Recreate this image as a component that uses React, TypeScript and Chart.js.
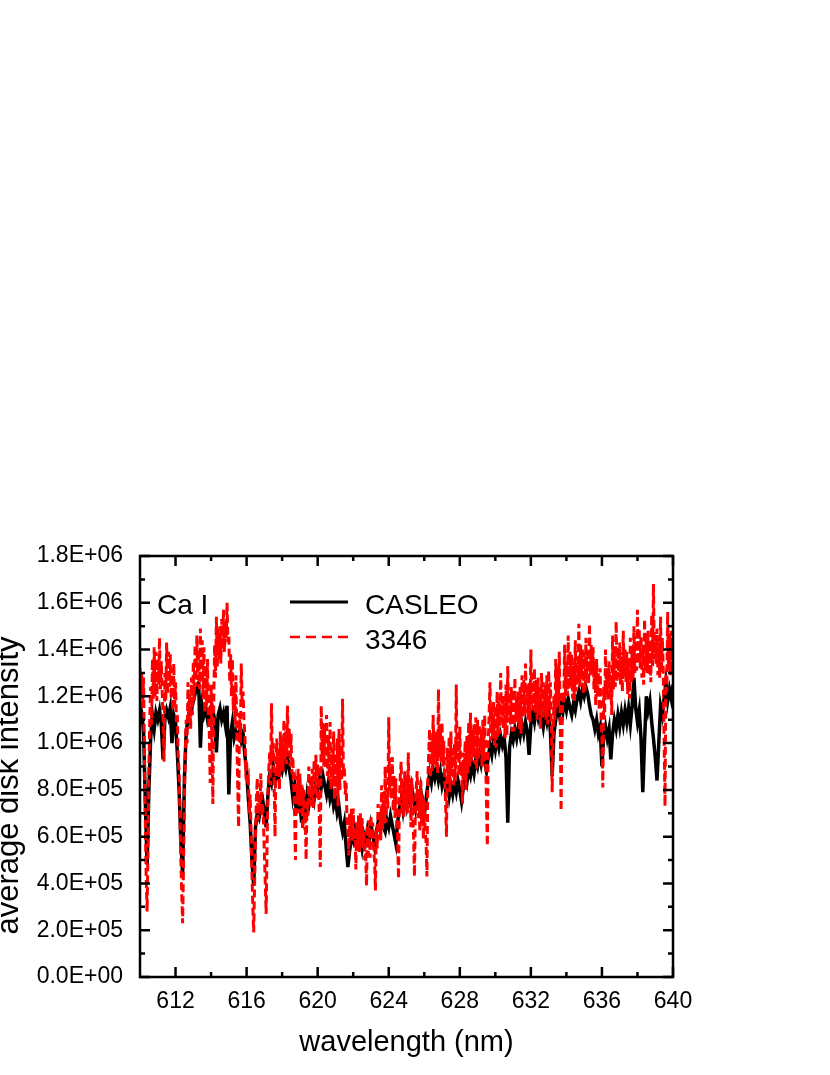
import React, { useEffect, useRef } from 'react';
import { Chart, registerables } from 'chart.js';

Chart.register(...registerables);

// ---- data (intensity in units of 1E+05) ----
const WAVELENGTH_START = 610;
const CASLEO_STEP = 0.1;
const SERIES_3346_STEP = 0.05;
const Y_UNIT = 1e5;

const CASLEO = [
  11.6, 11.3, 10.5, 7.5, 4.8, 8.0, 10.2, 11.2, 10.6, 11.3,
  11.0, 11.4, 10.8, 9.3, 11.0, 11.4, 11.1, 11.5, 10.0, 11.2,
  10.9, 9.6, 8.0, 5.8, 4.4, 8.5, 10.5, 11.0, 11.5, 11.4,
  11.8, 12.1, 12.5, 12.6, 9.8, 11.6, 11.2, 11.5, 11.0, 11.3,
  10.9, 11.4, 11.0, 9.6, 11.2, 11.5, 11.0, 11.3, 10.8, 11.6,
  7.8, 10.4, 10.9, 10.2, 10.5, 10.3, 10.5, 10.1, 10.4, 9.5,
  8.8, 7.6, 6.6, 5.0, 3.9, 6.4, 7.0, 6.8, 7.3, 7.6,
  7.1, 6.4, 7.8, 8.6, 8.3, 9.0, 8.4, 8.8, 8.5, 9.1,
  8.8, 9.2, 8.9, 9.4, 8.9, 8.4, 7.7, 8.2, 7.0, 7.9,
  7.4, 6.6, 7.6, 7.1, 7.8, 7.3, 7.7, 8.0, 7.6, 8.3,
  8.0, 8.5, 8.1, 8.6, 8.2, 7.8, 8.3, 7.6, 7.9, 7.3,
  7.6, 7.0, 7.3, 6.6, 6.2, 6.6, 5.6, 4.7, 5.4, 6.0,
  5.8, 6.3, 5.9, 6.4, 6.0, 5.5, 6.1, 5.8, 6.3, 5.9,
  6.5, 6.1, 5.6, 6.2, 6.6, 6.3, 6.8, 6.4, 6.2, 6.7,
  6.4, 6.9, 6.5, 6.1, 5.7, 6.6, 7.2, 7.6, 7.1, 7.7,
  7.3, 7.9, 7.5, 8.1, 7.6, 7.2, 7.8, 7.4, 8.0, 7.3,
  6.9, 7.6, 8.2, 8.7, 8.3, 8.9, 8.5, 8.9, 8.4, 8.8,
  8.2, 8.6, 8.0, 8.3, 7.7, 8.2, 7.8, 8.3, 7.9, 8.4,
  8.0, 7.5, 8.1, 8.6, 8.3, 8.9, 8.6, 9.1, 8.7, 9.3,
  9.0, 9.5, 9.1, 9.6, 9.2, 8.8, 9.4, 9.9, 9.5, 10.1,
  9.7, 10.2, 9.8, 10.3, 9.9, 10.2, 9.4, 6.6, 9.8, 10.4,
  10.1, 10.6, 10.2, 10.7, 10.3, 10.8, 10.4, 10.9, 10.5, 9.5,
  10.8, 11.3, 10.9, 11.5, 11.1, 11.6, 11.2, 10.7, 11.3, 10.9,
  11.4, 10.5, 8.6, 10.4, 11.0, 11.6, 11.2, 11.7, 11.3, 11.8,
  11.4, 11.9, 11.5, 11.2, 11.7, 11.4, 11.9, 12.2, 11.8, 12.3,
  12.0, 12.4, 12.1, 11.6, 11.2, 11.0, 10.6, 11.0, 10.4, 10.7,
  9.0, 10.3, 10.7, 10.2, 10.6, 9.3, 10.4, 11.0, 10.6, 11.2,
  10.7, 11.3, 10.8, 11.4, 10.9, 11.5, 10.8, 11.6, 12.8, 11.5,
  10.9, 11.4, 10.2, 7.9, 10.1, 12.0, 11.4, 11.8, 10.9, 10.2,
  9.4, 8.4, 10.0, 11.6, 11.2, 11.9, 12.6, 11.8, 12.3, 11.9,
  12.5,
];

const SERIES_3346 = [
  13.2, 11.9, 13.0, 11.5, 12.8, 9.5, 6.5, 4.2, 2.8, 5.5, 9.0, 11.0, 12.4, 10.8, 13.6, 11.9, 14.1, 12.0, 13.9, 11.8,
  13.6, 12.5, 14.5, 12.3, 13.5, 12.2, 11.0, 9.2, 13.0, 11.8, 14.3, 12.1, 13.9, 12.4, 13.8, 11.9, 13.2, 11.4, 13.4, 11.6,
  12.6, 10.9, 11.2, 9.4, 8.8, 6.9, 5.0, 3.6, 2.3, 4.8, 7.5, 9.6, 11.0, 10.0, 12.6, 11.0, 12.2, 10.6, 12.8, 11.2,
  13.5, 11.8, 14.2, 12.4, 14.6, 12.7, 14.0, 12.3, 14.9, 12.6, 14.4, 11.9, 14.1, 11.3, 13.3, 11.6, 13.6, 11.2, 10.5, 8.3,
  12.5, 10.2, 7.4, 11.6, 14.2, 12.8, 15.4, 13.2, 14.9, 13.6, 15.0, 13.4, 15.3, 14.0, 15.7, 13.9, 15.1, 14.5, 16.0, 14.3,
  14.6, 12.6, 13.8, 12.0, 13.6, 11.4, 12.4, 10.8, 12.9, 10.3, 8.2, 6.4, 11.3, 10.0, 13.4, 11.6, 12.2, 11.0, 10.4, 9.0,
  9.2, 8.2, 8.4, 7.0, 7.8, 6.2, 4.5, 3.0, 1.9, 4.0, 6.0, 7.6, 8.5, 6.7, 7.9, 7.1, 8.7, 6.9, 7.4, 6.6,
  5.3, 4.0, 2.7, 5.6, 7.8, 8.9, 9.6, 8.2, 11.7, 9.3, 10.0, 8.4, 6.0, 9.1, 10.2, 8.6, 9.7, 8.0, 10.5, 8.9,
  10.1, 8.8, 11.0, 9.3, 10.5, 9.1, 11.6, 9.8, 10.6, 9.0, 10.4, 8.7, 9.4, 8.2, 7.0, 5.0, 8.6, 7.4, 8.9, 7.0,
  8.7, 7.3, 8.2, 6.3, 8.0, 6.8, 7.0, 5.0, 7.6, 6.9, 9.0, 7.4, 8.6, 7.3, 8.9, 7.2, 9.3, 7.8, 9.5, 7.6,
  9.1, 8.3, 6.5, 4.7, 11.6, 9.4, 10.9, 9.0, 10.8, 8.9, 11.2, 8.6, 10.3, 8.4, 10.9, 8.0, 9.8, 8.2, 10.5, 7.6,
  9.4, 7.8, 10.2, 7.3, 10.6, 8.0, 9.9, 8.4, 11.9, 8.6, 9.0, 7.8, 8.3, 6.8, 6.4, 5.2, 7.0, 6.0, 7.2, 5.8,
  7.2, 5.9, 6.4, 4.6, 6.6, 5.4, 6.9, 5.3, 7.0, 5.6, 6.8, 5.5, 6.2, 5.0, 5.3, 3.9, 6.5, 5.2, 6.7, 5.1,
  6.9, 5.6, 6.6, 5.4, 5.0, 3.7, 6.3, 5.5, 7.4, 5.9, 7.0, 5.8, 8.2, 6.3, 7.6, 6.5, 9.0, 6.6, 8.1, 7.2,
  11.1, 7.9, 9.0, 7.6, 9.4, 7.1, 8.6, 6.8, 8.5, 6.4, 6.0, 4.2, 7.5, 8.6, 9.2, 7.0, 8.4, 6.8, 8.8, 7.1,
  8.6, 7.0, 9.6, 7.5, 8.3, 6.4, 8.5, 6.9, 6.0, 4.3, 7.4, 8.1, 8.8, 6.8, 7.9, 6.2, 8.4, 6.6, 7.8, 5.9,
  7.6, 6.3, 5.8, 4.3, 8.4, 9.6, 10.6, 8.5, 10.1, 8.8, 11.2, 9.1, 10.5, 9.0, 10.4, 8.7, 12.3, 9.4, 10.8, 9.2,
  10.9, 9.0, 10.1, 8.5, 7.4, 6.0, 9.8, 8.3, 10.3, 7.9, 10.5, 8.6, 9.7, 8.2, 10.0, 8.4, 12.5, 9.3, 10.4, 8.6,
  10.7, 8.8, 9.2, 7.4, 9.6, 8.4, 10.1, 8.0, 10.3, 8.7, 10.9, 9.0, 11.3, 9.2, 10.6, 9.4, 10.8, 9.1, 11.1, 8.9,
  11.0, 9.3, 10.8, 9.5, 10.6, 9.0, 11.0, 9.2, 11.2, 9.6, 7.5, 5.6, 10.0, 11.2, 12.6, 10.1, 11.5, 10.2, 11.8, 9.9,
  11.6, 9.8, 12.2, 10.3, 11.8, 10.4, 13.0, 10.9, 12.1, 10.6, 12.0, 10.2, 12.5, 10.3, 13.3, 10.9, 12.2, 10.8, 12.4, 10.5,
  12.3, 10.5, 12.8, 10.9, 12.0, 11.0, 12.2, 10.6, 12.4, 10.4, 12.9, 11.1, 12.7, 11.2, 13.4, 11.3, 12.5, 11.0, 12.6, 10.9,
  14.0, 11.6, 12.9, 11.4, 13.2, 11.3, 12.7, 11.0, 12.8, 11.2, 12.4, 10.6, 13.0, 11.1, 12.6, 11.2, 12.5, 11.0, 12.9, 10.8,
  13.1, 11.4, 12.6, 10.8, 7.9, 10.2, 12.0, 11.0, 13.6, 11.5, 13.2, 11.6, 13.9, 11.2, 7.1, 10.4, 12.2, 11.7, 14.2, 12.0,
  13.4, 12.0, 14.6, 12.3, 13.9, 12.4, 13.8, 11.9, 13.3, 11.8, 14.4, 12.2, 13.7, 12.6, 15.1, 12.4, 14.2, 12.8, 14.0, 12.1,
  13.9, 12.2, 14.5, 12.6, 13.8, 12.5, 15.1, 12.9, 14.2, 13.0, 14.1, 12.3, 13.5, 11.6, 13.6, 12.0, 13.0, 11.4, 13.2, 11.1,
  10.2, 8.1, 12.4, 11.0, 14.0, 12.1, 13.2, 11.8, 13.5, 11.9, 12.9, 11.2, 14.6, 12.3, 13.8, 12.4, 15.2, 12.6, 14.1, 12.8,
  14.3, 12.5, 13.7, 12.2, 14.8, 12.8, 14.0, 12.6, 13.9, 12.1, 13.6, 11.9, 14.5, 12.6, 14.1, 12.7, 15.0, 13.0, 14.4, 13.1,
  15.7, 13.4, 14.9, 13.2, 14.6, 12.8, 14.2, 12.5, 15.3, 13.1, 14.7, 13.0, 14.8, 12.9, 14.4, 12.6, 15.5, 13.3, 16.8, 13.6,
  14.6, 13.4, 14.9, 12.9, 14.3, 12.8, 15.4, 13.0, 14.5, 13.2, 10.0, 7.3, 13.0, 12.2, 15.6, 13.1, 14.7, 12.9, 14.8, 13.0,
  13.6,
];

const SERIES_LABELS = ['CASLEO', '3346'];
const X_TICKS = [612, 616, 620, 624, 628, 632, 636, 640];
const X_MINOR_TICKS = [614, 618, 622, 626, 630, 634, 638];
const Y_TICKS = [0, 2e5, 4e5, 6e5, 8e5, 10e5, 12e5, 14e5, 16e5, 18e5];
const Y_MINOR_TICKS = [1e5, 3e5, 5e5, 7e5, 9e5, 11e5, 13e5, 15e5, 17e5];
const X_TITLE = 'wavelength (nm)';
const Y_TITLE = 'average disk intensity';
const ANNOTATION = 'Ca I';

const FONT = "'Liberation Sans', Arial, Helvetica, sans-serif";

function toPoints(values: number[], step: number) {
  return values.map((v, i) => ({
    x: Math.round((WAVELENGTH_START + i * step) * 100) / 100,
    y: v * Y_UNIT,
  }));
}

function sci(v: number): string {
  if (v === 0) return '0.0E+00';
  const e = Math.floor(Math.log10(Math.abs(v)) + 1e-9);
  const m = v / Math.pow(10, e);
  return m.toFixed(1) + 'E' + (e < 0 ? '-' : '+') + String(Math.abs(e)).padStart(2, '0');
}

const decorPlugin = {
  id: 'decor',
  afterDatasetsDraw(chart: any) {
    const { ctx, chartArea: a, scales } = chart;
    const x = scales.x;
    const y = scales.y;
    const MAJOR = 10;
    const MINOR = 5;
    ctx.save();
    ctx.strokeStyle = '#000';
    ctx.lineWidth = 2.5;
    ctx.strokeRect(a.left, a.top, a.right - a.left, a.bottom - a.top);
    ctx.beginPath();
    const xt = (vals: number[], len: number) => {
      vals.forEach((v) => {
        const px = x.getPixelForValue(v);
        ctx.moveTo(px, a.bottom);
        ctx.lineTo(px, a.bottom - len);
        ctx.moveTo(px, a.top);
        ctx.lineTo(px, a.top + len);
      });
    };
    const yt = (vals: number[], len: number) => {
      vals.forEach((v) => {
        const py = y.getPixelForValue(v);
        ctx.moveTo(a.left, py);
        ctx.lineTo(a.left + len, py);
        ctx.moveTo(a.right, py);
        ctx.lineTo(a.right - len, py);
      });
    };
    xt(X_TICKS, MAJOR);
    xt(X_MINOR_TICKS, MINOR);
    yt(Y_TICKS, MAJOR);
    yt(Y_MINOR_TICKS, MINOR);
    ctx.stroke();
    ctx.restore();
  },
  afterDraw(chart: any) {
    const { ctx, chartArea: a } = chart;
    ctx.save();
    ctx.fillStyle = '#000';
    // annotation
    ctx.font = `28px ${FONT}`;
    ctx.textAlign = 'left';
    ctx.textBaseline = 'alphabetic';
    ctx.fillText(ANNOTATION, a.left + 17, a.top + 58);
    // legend
    const datasets = chart.data.datasets;
    datasets.forEach((ds: any, i: number) => {
      const base = a.top + 58 + i * 35;
      const ly = base - 12;
      ctx.save();
      ctx.strokeStyle = ds.borderColor;
      ctx.lineWidth = ds.label === SERIES_LABELS[0] ? 3 : 2.5;
      ctx.setLineDash(ds.label === SERIES_LABELS[0] ? [] : [10, 6]);
      ctx.beginPath();
      ctx.moveTo(a.left + 150, ly);
      ctx.lineTo(a.left + 208, ly);
      ctx.stroke();
      ctx.restore();
      ctx.fillText(ds.label, a.left + 225, base);
    });
    // y title
    ctx.translate(18, (a.top + a.bottom) / 2 + 19);
    ctx.rotate(-Math.PI / 2);
    ctx.font = `31px ${FONT}`;
    ctx.textAlign = 'center';
    ctx.textBaseline = 'alphabetic';
    ctx.fillText(Y_TITLE, 0, 0);
    ctx.restore();
  },
};

export default function App() {
  const ref = useRef<HTMLCanvasElement | null>(null);

  useEffect(() => {
    if (!ref.current) return;
    const chart = new Chart(ref.current, {
      type: 'line',
      data: {
        datasets: [
          {
            label: SERIES_LABELS[0],
            data: toPoints(CASLEO, CASLEO_STEP),
            borderColor: '#000000',
            borderWidth: 3.5,
            pointRadius: 0,
            tension: 0,
            order: 2,
          },
          {
            label: SERIES_LABELS[1],
            data: toPoints(SERIES_3346, SERIES_3346_STEP),
            borderColor: '#ff0000',
            borderWidth: 3,
            borderDash: [8, 4],
            pointRadius: 0,
            tension: 0,
            order: 1,
          },
        ],
      },
      options: {
        responsive: false,
        animation: false,
        layout: { padding: { top: 556, right: 157, left: 0, bottom: 0 } },
        plugins: {
          legend: { display: false },
          tooltip: { enabled: false },
        },
        scales: {
          x: {
            type: 'linear',
            min: 610,
            max: 640,
            grid: { display: false, drawTicks: false },
            border: { display: false },
            afterBuildTicks: (scale: any) => {
              scale.ticks = X_TICKS.map((value) => ({ value }));
            },
            afterFit: (scale: any) => {
              scale.height = 98;
            },
            ticks: {
              color: '#000',
              padding: 11,
              maxRotation: 0,
              autoSkip: false,
              font: { family: FONT, size: 23 },
              callback: (v: any) => String(v),
            },
            title: {
              display: true,
              text: X_TITLE,
              color: '#000',
              font: { family: FONT, size: 29 },
              padding: { top: 0, bottom: 15 },
            },
          },
          y: {
            type: 'linear',
            min: 0,
            max: 1.8e6,
            grid: { display: false, drawTicks: false },
            border: { display: false },
            afterBuildTicks: (scale: any) => {
              scale.ticks = Y_TICKS.map((value) => ({ value }));
            },
            afterFit: (scale: any) => {
              scale.width = 140;
            },
            ticks: {
              color: '#000',
              padding: 17,
              autoSkip: false,
              font: { family: FONT, size: 23 },
              callback: (v: any) => sci(Number(v)),
            },
          },
        },
      },
      plugins: [decorPlugin],
    } as any);
    return () => chart.destroy();
  }, []);

  return (
    <canvas
      ref={ref}
      width={830}
      height={1075}
      style={{ position: 'absolute', left: 0, top: 0, display: 'block' }}
    />
  );
}
